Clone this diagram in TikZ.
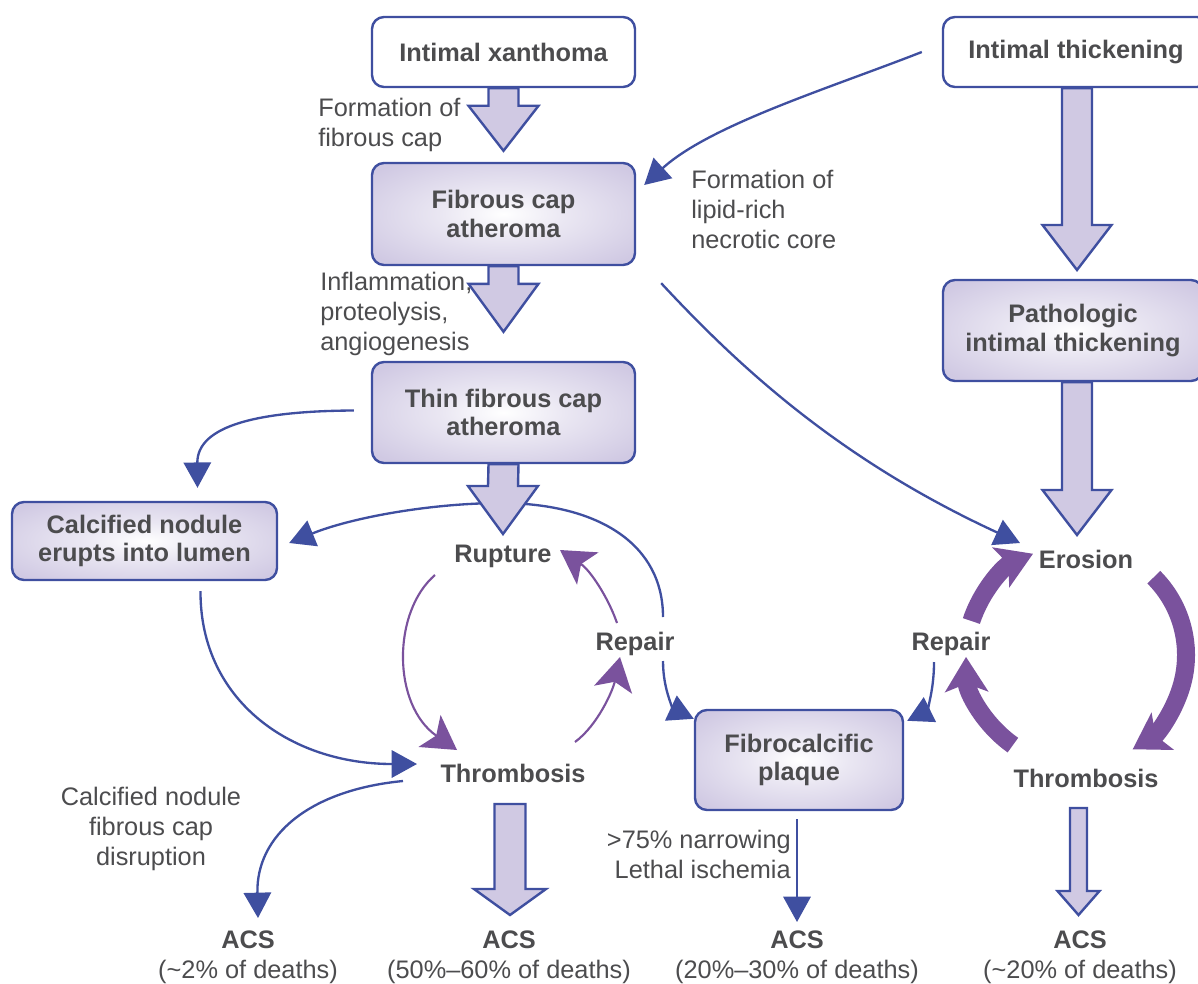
\documentclass[tikz,border=0pt]{standalone}
\usepackage{fontspec}
\setmainfont{Liberation Sans}
\usetikzlibrary{arrows.meta,calc}
\definecolor{myblue}{HTML}{3F4FA0}
\definecolor{lav}{HTML}{D0C9E3}
\definecolor{mypurple}{HTML}{7A529D}
\definecolor{txt}{HTML}{4C4C4E}
\colorlet{lavmid}{lav!45!white}
\pgfdeclareradialshading{boxshade}{\pgfpoint{0bp}{0bp}}{color(0bp)=(white); color(12bp)=(lavmid); color(32bp)=(lav); color(100bp)=(lav)}
\newcommand{\fatarrow}[5]{\draw[fatarr] ($(#1)+(-#3,0)$) -- ($(#2)+(-#3,-#5)$) -- ($(#2)+(-#4,-#5)$) -- (#2) -- ($(#2)+(#4,-#5)$) -- ($(#2)+(#3,-#5)$) -- ($(#1)+(#3,0)$) -- cycle;}
\begin{document}
\begin{tikzpicture}[x=0.75pt,y=-0.75pt,
  every node/.style={text=txt, font=\fontsize{19}{22.5}\selectfont},
  box/.style={draw=myblue, line width=1.8pt, rounded corners=9pt, align=center, inner sep=0pt, font=\fontsize{19}{21.5}\selectfont\bfseries},
  plainbox/.style={box, fill=white},
  shbox/.style={box, shade, shading=boxshade},
  lbl/.style={font=\fontsize{19}{22.5}\selectfont\bfseries, inner sep=1pt},
  note/.style={align=left, inner sep=0pt},
  acs/.style={align=center, inner sep=0pt},
  fatarr/.style={draw=myblue, fill=lav, line width=1.8pt, line join=miter},
  blueline/.style={draw=myblue, line width=1.75pt, -{Triangle[length=19pt,width=20.5pt]}},
  purpthin/.style={draw=mypurple, line width=1.6pt, -{Stealth[length=25pt,width=29pt,inset=6pt]}},
  thickp/.style={draw=mypurple, line width=13.5pt, -{Stealth[length=26pt,width=32pt,inset=6pt]}}]
\useasboundingbox (0,0) rectangle (1198,984);

% boxes
\node[plainbox, minimum width=197.25pt, minimum height=52.5pt] (xan) at (503.5,52) {Intimal xanthoma};
\node[plainbox, minimum width=199.5pt, minimum height=52.5pt] (ith) at (1076,52) {Intimal thickening};
\node[shbox, minimum width=197.25pt, minimum height=76.5pt] (fca) at (503.5,214) {Fibrous cap\\atheroma};
\node[shbox, minimum width=197.25pt, minimum height=75.75pt] (tfca) at (503.5,412.5) {Thin fibrous cap\\atheroma};
\node[shbox, minimum width=195pt, minimum height=75.75pt] (pit) at (1073,330.5) {Pathologic\\intimal thickening};
\node[shbox, minimum width=198.75pt, minimum height=58.5pt] (cn) at (144.5,541) {Calcified nodule\\erupts into lumen};
\node[shbox, minimum width=156pt, minimum height=75pt] (fcp) at (799,760) {Fibrocalcific\\plaque};

% bold labels
\node[lbl] (rup) at (503,556) {Rupture};
\node[lbl] (rep1) at (635,644) {Repair};
\node[lbl] (thr1) at (513,773) {Thrombosis};
\node[lbl] (ero) at (1086,559) {Erosion};
\node[lbl] (rep2) at (951,644) {Repair};
\node[lbl] (thr2) at (1086,778) {Thrombosis};

% ACS
\node[acs] (acs1) at (248,957) {\textbf{ACS}\\(\textasciitilde2\% of deaths)};
\node[acs] (acs2) at (509,957) {\textbf{ACS}\\(50\%–60\% of deaths)};
\node[acs] (acs3) at (797,957) {\textbf{ACS}\\(20\%–30\% of deaths)};
\node[acs] (acs4) at (1080,957) {\textbf{ACS}\\(\textasciitilde20\% of deaths)};

% notes
\node[note, anchor=west] (n1) at (318,125) {Formation of\\fibrous cap};
\node[note, anchor=west] (n2) at (691,209) {Formation of\\lipid-rich\\necrotic core};
\node[note, anchor=west] (n3) at (320,314) {Inflammation,\\proteolysis,\\angiogenesis};
\node[note, align=center] (n4) at (151,829) {Calcified nodule\\fibrous cap\\disruption};
\node[note, align=right, anchor=east] (n5) at (791,854) {>75\% narrowing\\Lethal ischemia};

% blue connectors
\draw[blueline] ($(ith.west)+(-20,0)$) .. controls (830,88) and (710,125) .. ($(fca.east)+(8,-29)$);
\draw[blueline] ($(fca.south east)+(25,17)$) .. controls (740,368) and (840,460) .. ($(ero)+(-66,-16)$);
\draw[blueline] ($(tfca.west)+(-17,-2)$) .. controls (260,411) and (197,425) .. ($(cn.north)+(53,-13)$);
\draw[blueline] ($(cn.south)+(56,10)$) .. controls (200,700) and (290,764) .. ($(thr1)+(-96,-9)$);
\draw[blueline] ($(thr1)+(-110,8)$) .. controls (310,790) and (256,835) .. ($(acs1)+(10,-39)$);
\draw[blueline] ($(rep1)+(28,-27)$) .. controls (663,545) and (600,504) .. ($(rup)+(0,-53)$) .. controls (430,503) and (350,518) .. ($(cn.east)+(11,2)$);
\draw[blueline] ($(rep1)+(28,17)$) .. controls (663,692) and (675,710) .. ($(fcp.north west)+(0,10)$);
\draw[blueline] ($(rep2)+(-17,18)$) .. controls (934,695) and (925,712) .. ($(fcp.north east)+(3,12)$);
\draw[blueline] ($(fcp.south)+(-2,8)$) -- ($(acs3)+(0,-35)$);

% purple thin cycle
\draw[purpthin] ($(rup)+(-68,19)$) .. controls (392,612) and (392,705) .. ($(thr1)+(-56,-23)$);
\draw[purpthin] ($(thr1)+(62,-31)$) .. controls (598,725) and (613,690) .. ($(rep1)+(-15,13)$);
\draw[purpthin] ($(rep1)+(-18,-21)$) .. controls (608,597) and (590,570) .. ($(rup)+(57,-6)$);

% purple thick cycle
\coordinate (c2) at (1076,655);
\draw[thickp] ($(c2)+(-162:110)$) arc[start angle=-162, end angle=-113, radius=110];
\draw[thickp] ($(c2)+(-45:110)$) arc[start angle=-45, end angle=59, radius=110];
\draw[thickp] ($(c2)+(125:110)$) arc[start angle=125, end angle=179, radius=110];

% fat arrows
\coordinate (t1) at ($(fca.north)+(0,-11)$);
\coordinate (t2) at ($(tfca.north)+(0,-29)$);
\coordinate (t3) at ($(rup)+(0,-22)$);
\coordinate (t4) at (1077,270);
\coordinate (s4) at (ith.south -| t4);
\coordinate (t5) at (1077,535);
\coordinate (s5) at (pit.south -| t5);
\coordinate (s6) at (510,804);
\coordinate (t6) at (510,915);
\coordinate (s7) at (1078.5,808);
\coordinate (t7) at (1078.5,915);
\fatarrow{xan.south}{t1}{15}{35}{45}
\fatarrow{fca.south}{t2}{15}{35}{48}
\fatarrow{tfca.south}{t3}{15}{35}{48}
\fatarrow{s4}{t4}{15}{34.5}{45}
\fatarrow{s5}{t5}{15}{34.5}{45}
\fatarrow{s6}{t6}{15.5}{36}{26}
\fatarrow{s7}{t7}{8.5}{21}{24}
\end{tikzpicture}
\end{document}
